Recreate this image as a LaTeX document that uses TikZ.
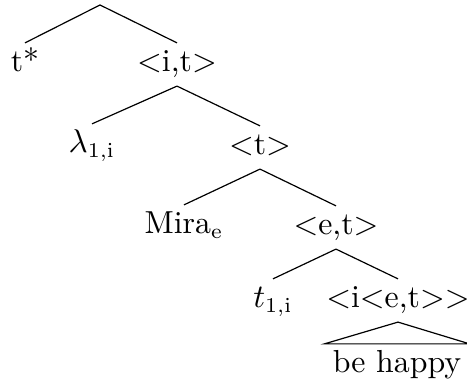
\documentclass[tikz,border=0pt]{standalone}
\usepackage{amsmath}
\usepackage{tikz}
\usetikzlibrary{positioning}

\begin{document}
\begin{tikzpicture}[
    x=0.333pt, y=-0.333pt,
    font=\fontsize{10.6pt}{12.7pt}\selectfont,
    label/.style={anchor=base, inner xsep=0pt, inner ysep=2.5pt, text height=7pt, text depth=2pt},
    roof/.style={anchor=base, inner xsep=2.6pt, inner ysep=2.5pt, text height=7pt, text depth=2pt},
    branch/.style={draw, line width=0.4pt}
]
\useasboundingbox (0,0) rectangle (467,385);

% Root
\coordinate (root) at (100,5);

% Level 1
\node[label] (tstar) at (25,72) {t*};
\node[label] (it) at (177,72) {<i,t>};

% Level 2
\node[label] (lambda) at (92,153) {$\lambda_{1,\mathrm{i}}$};
\node[label] (t) at (260,155) {<t>};

% Level 3
\node[label] (mira) at (184,234) {Mira$_{\mathrm{e}}$};
\node[label] (et) at (336,235) {<e,t>};

% Level 4
\node[label] (trace) at (273,308) {$t_{1,\mathrm{i}}$};
\node[label] (iet) at (398,308) {<i<e,t>{}>};

% Roof
\node[roof] (happy) at (397,373) {be happy};

% Branches
\draw[branch] (root) -- (tstar.north);
\draw[branch] (root) -- (it.north);
\draw[branch] (it.south) -- (lambda.north);
\draw[branch] (it.south) -- (t.north);
\draw[branch] (t.south) -- (mira.north);
\draw[branch] (t.south) -- (et.north);
\draw[branch] (et.south) -- (trace.north);
\draw[branch] (et.south) -- (iet.north);
\draw[branch] (happy.north west) -- (iet.south) -- (happy.north east) -- cycle;

\end{tikzpicture}
\end{document}
